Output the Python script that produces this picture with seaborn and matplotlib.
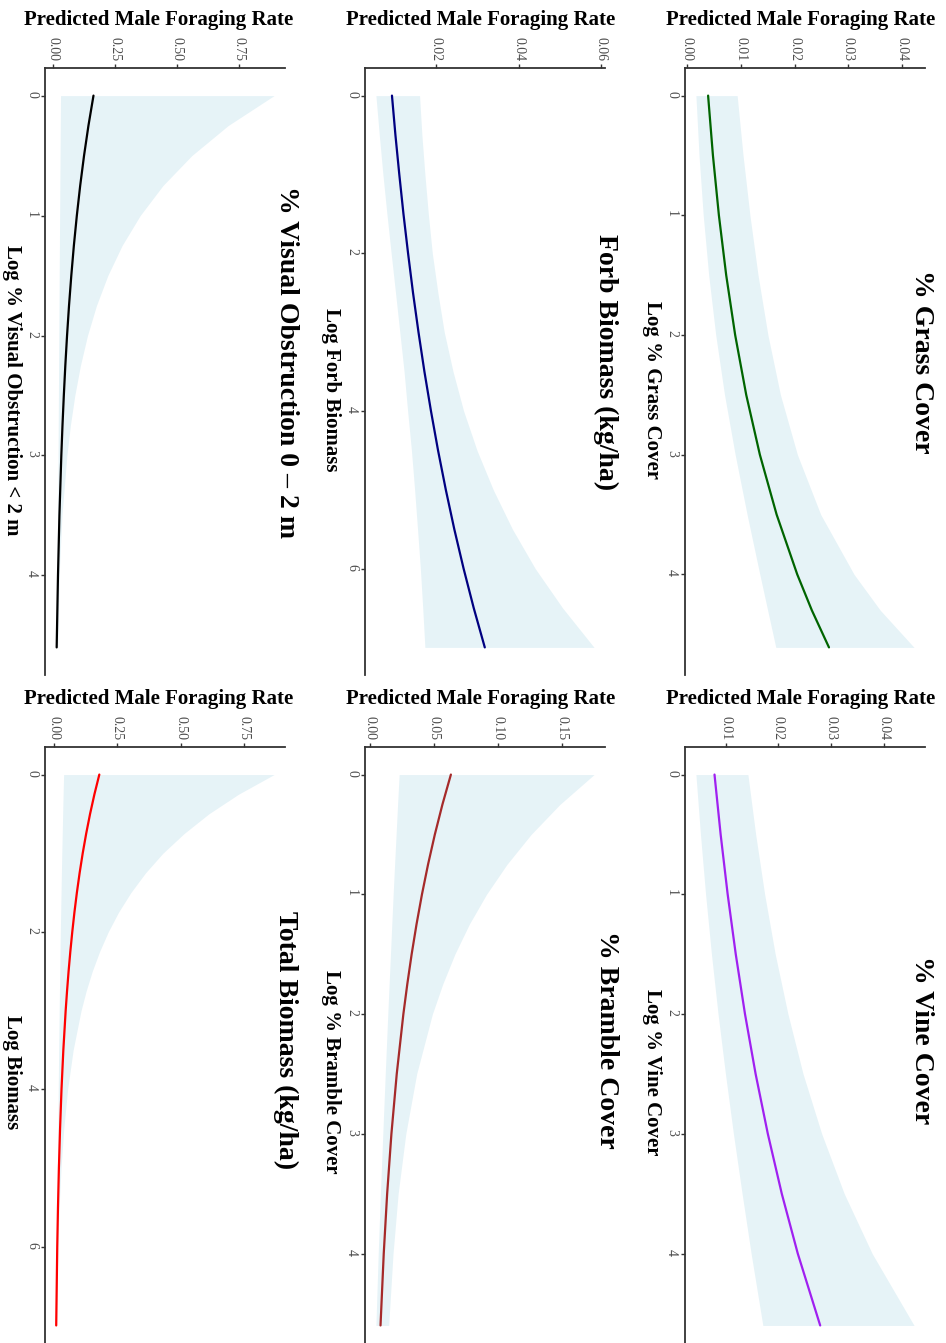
import matplotlib
matplotlib.use("Agg")
import matplotlib.pyplot as plt
import seaborn as sns

# ---------------- data ----------------
# % Grass Cover (log scale predictor)
grass_x = [0, 0.5, 1, 1.5, 2, 2.5, 3, 3.5, 4, 4.3, 4.61]
grass_fit = [0.00390, 0.00480, 0.00591, 0.00727, 0.00894, 0.01100, 0.01354, 0.01666, 0.02050, 0.02322, 0.02641]
grass_lo = [0.00163, 0.00221, 0.00299, 0.00401, 0.00532, 0.00696, 0.00894, 0.01116, 0.01353, 0.01499, 0.01651]
grass_hi = [0.00931, 0.01041, 0.01169, 0.01320, 0.01504, 0.01737, 0.02053, 0.02487, 0.03108, 0.03597, 0.04226]
grass_ticks = [0.00, 0.01, 0.02, 0.03, 0.04]
grass_ticklabels = ["0.00", "0.01", "0.02", "0.03", "0.04"]
grass_yticks = [0, 1, 2, 3, 4]

# % Vine Cover
vine_x = [0, 0.5, 1, 1.5, 2, 2.5, 3, 3.5, 4, 4.6]
vine_fit = [0.00790, 0.00906, 0.01039, 0.01192, 0.01367, 0.01568, 0.01799, 0.02063, 0.02366, 0.02790]
vine_lo = [0.00438, 0.00524, 0.00621, 0.00732, 0.00857, 0.00997, 0.01148, 0.01312, 0.01483, 0.01705]
vine_hi = [0.01422, 0.01569, 0.01739, 0.01939, 0.02180, 0.02466, 0.02819, 0.03245, 0.03774, 0.04567]
vine_ticks = [0.01, 0.02, 0.03, 0.04]
vine_ticklabels = ["0.01", "0.02", "0.03", "0.04"]
vine_yticks = [0, 1, 2, 3, 4]

# Forb Biomass (kg/ha)
forb_x = [0, 0.5, 1, 1.5, 2, 2.5, 3, 3.5, 4, 4.5, 5, 5.5, 6, 6.5, 7]
forb_fit = [0.00920, 0.01004, 0.01098, 0.01199, 0.01311, 0.01431, 0.01564, 0.01708,
            0.01867, 0.02039, 0.02228, 0.02434, 0.02660, 0.02906, 0.03175]
forb_lo = [0.00530, 0.00612, 0.00700, 0.00797, 0.00900, 0.01006, 0.01110, 0.01214,
           0.01300, 0.01393, 0.01470, 0.01541, 0.01610, 0.01667, 0.01720]
forb_hi = [0.01590, 0.01647, 0.01720, 0.01803, 0.01900, 0.02035, 0.02190, 0.02403,
           0.02660, 0.02985, 0.03380, 0.03846, 0.04400, 0.05065, 0.05830]
forb_ticks = [0.02, 0.04, 0.06]
forb_ticklabels = ["0.02", "0.04", "0.06"]
forb_yticks = [0, 2, 4, 6]

# % Bramble Cover
bramble_x = [0, 0.25, 0.5, 0.75, 1, 1.25, 1.5, 1.75, 2, 2.5, 3, 3.5, 4, 4.6]
bramble_fit = [0.0634, 0.05677, 0.05084, 0.04553, 0.04076, 0.03650, 0.03268, 0.02927,
               0.02620, 0.02101, 0.01684, 0.01350, 0.01083, 0.00831]
bramble_lo = [0.0229, 0.02166, 0.0205, 0.01933, 0.0182, 0.01713, 0.0161, 0.01504,
              0.0140, 0.0120, 0.0101, 0.0082, 0.0065, 0.0047]
bramble_hi = [0.1755, 0.1487, 0.1262, 0.1073, 0.0913, 0.0778, 0.0665, 0.0570,
              0.0489, 0.0366, 0.0281, 0.0221, 0.0181, 0.0147]
bramble_ticks = [0.00, 0.05, 0.10, 0.15]
bramble_ticklabels = ["0.00", "0.05", "0.10", "0.15"]
bramble_yticks = [0, 1, 2, 3, 4]

# % Visual Obstruction 0-2 m
vo_x = [0, 0.25, 0.5, 0.75, 1, 1.25, 1.5, 1.75, 2, 2.25, 2.5, 2.75, 3, 3.5, 4, 4.6]
vo_fit = [0.163, 0.1426, 0.1248, 0.1092, 0.0956, 0.0836, 0.0732, 0.0640, 0.0560, 0.0490,
          0.0429, 0.0375, 0.0328, 0.0251, 0.0193, 0.0140]
vo_lo = [0.0297, 0.0287, 0.0278, 0.0269, 0.0260, 0.0251, 0.0242, 0.0234, 0.0226, 0.0218,
         0.0211, 0.0203, 0.0195, 0.0178, 0.0156, 0.0109]
vo_hi = [0.894, 0.708, 0.561, 0.444, 0.352, 0.2787, 0.221, 0.1750, 0.1387, 0.1101,
         0.0874, 0.0694, 0.0553, 0.0354, 0.0239, 0.0180]
vo_ticks = [0.00, 0.25, 0.50, 0.75]
vo_ticklabels = ["0.00", "0.25", "0.50", "0.75"]
vo_yticks = [0, 1, 2, 3, 4]

# Total Biomass (kg/ha)
total_x = [0, 0.25, 0.5, 0.75, 1, 1.25, 1.5, 1.75, 2, 2.25, 2.5, 2.75, 3, 3.5, 4, 4.5,
           5, 5.5, 6, 7]
total_fit = [0.178, 0.1586, 0.1413, 0.1259, 0.1121, 0.0999, 0.0890, 0.0793, 0.0707, 0.0630,
             0.0561, 0.0500, 0.0445, 0.0353, 0.0280, 0.0223, 0.01767, 0.01403, 0.01113, 0.00701]
total_lo = [0.0364, 0.0344, 0.0326, 0.0309, 0.0292, 0.0276, 0.0262, 0.0248, 0.0234, 0.0222,
            0.0210, 0.0199, 0.0188, 0.0168, 0.0150, 0.01345, 0.01196, 0.01060, 0.00926, 0.00583]
total_hi = [0.871, 0.730, 0.612, 0.514, 0.430, 0.361, 0.303, 0.254, 0.2132, 0.1789,
            0.1499, 0.1258, 0.1055, 0.0742, 0.0522, 0.0370, 0.0261, 0.01856, 0.01338, 0.00843]
total_ticks = [0.00, 0.25, 0.50, 0.75]
total_ticklabels = ["0.00", "0.25", "0.50", "0.75"]
total_yticks = [0, 2, 4, 6]

titles = ["% Grass Cover", "% Vine Cover", "Forb Biomass (kg/ha)",
          "% Bramble Cover", "% Visual Obstruction 0 \u2013 2 m", "Total Biomass (kg/ha)"]
xlabels = ["Log % Grass Cover", "Log % Vine Cover", "Log Forb Biomass",
           "Log % Bramble Cover", "Log % Visual Obstruction < 2 m", "Log Biomass"]
response_label = "Predicted Male Foraging Rate"
line_colors = ["darkgreen", "#A020F0", "navy", "brown", "black", "red"]

# ---------------- style ----------------
sns.set_theme(style="ticks")
plt.rcParams["font.family"] = ["Liberation Serif", "DejaVu Serif"]
plt.rcParams["text.color"] = "black"
plt.rcParams["axes.edgecolor"] = "#333333"
plt.rcParams["xtick.color"] = "#333333"
plt.rcParams["ytick.color"] = "#333333"
plt.rcParams["xtick.labelcolor"] = "#4D4D4D"
plt.rcParams["ytick.labelcolor"] = "#4D4D4D"

W, H = 946, 1343
fig = plt.figure(figsize=(W / 100, H / 100), dpi=100)
fig.patch.set_facecolor("white")

# page is laid out sideways: each panel's response runs left->right along the top,
# predictor runs top->bottom
panels = [
    (grass_x, grass_fit, grass_lo, grass_hi, grass_ticks, grass_ticklabels, grass_yticks),
    (vine_x, vine_fit, vine_lo, vine_hi, vine_ticks, vine_ticklabels, vine_yticks),
    (forb_x, forb_fit, forb_lo, forb_hi, forb_ticks, forb_ticklabels, forb_yticks),
    (bramble_x, bramble_fit, bramble_lo, bramble_hi, bramble_ticks, bramble_ticklabels, bramble_yticks),
    (vo_x, vo_fit, vo_lo, vo_hi, vo_ticks, vo_ticklabels, vo_yticks),
    (total_x, total_fit, total_lo, total_hi, total_ticks, total_ticklabels, total_yticks),
]
# pixel boxes (left, top, right, bottom)
col_left = [685, 365, 45]
row_top = [68, 747]
row_bottom = [675, 1353]
title_x = [921, 606, 286]
xlabel_x = [652, 331, 12]
title_y = [362, 1040]
xlabel_y = [390, 1072]
resp_x = [801, 481, 159]
resp_y = [20, 699]

for i, (px, fit, lo, hi, ticks, ticklabels, yticks) in enumerate(panels):
    col, row = i // 2, i % 2
    L, T, R, B = col_left[col], row_top[row], col_left[col] + 240, row_bottom[row]
    ax = fig.add_axes([L / W, 1 - B / H, (R - L) / W, (B - T) / H])
    ax.fill_betweenx(px, lo, hi, color="lightblue", alpha=0.3, linewidth=0)
    sns.lineplot(x=fit, y=px, orient="y", sort=False, estimator=None,
                 color=line_colors[i], linewidth=1.6, ax=ax)
    xmin, xmax = min(min(lo), min(fit)), max(max(hi), max(fit))
    dx = 0.05 * (xmax - xmin)
    ax.set_xlim(xmin - dx, xmax + dx)
    ymin, ymax = min(px), max(px)
    dy = 0.05 * (ymax - ymin)
    ax.set_ylim(ymax + dy, ymin - dy)
    ax.set_xticks(ticks)
    ax.set_xticklabels(ticklabels)
    ax.set_yticks(yticks)
    ax.set_yticklabels([str(v) for v in yticks])
    ax.xaxis.tick_top()
    for side in ("right", "bottom"):
        ax.spines[side].set_visible(False)
    for side in ("top", "left"):
        ax.spines[side].set_linewidth(1.3)
    ax.tick_params(axis="both", labelrotation=-90, labelsize=10, length=3, width=1, pad=2)
    ax.set_xlabel("")
    ax.set_ylabel("")
    ax.set_facecolor("white")
    ax.grid(False)

    fig.text(title_x[col] / W, 1 - title_y[row] / H, titles[i], rotation=-90,
             ha="center", va="center", fontsize=20, fontweight="bold", color="black")
    fig.text(xlabel_x[col] / W, 1 - xlabel_y[row] / H, xlabels[i], rotation=-90,
             ha="center", va="center", fontsize=15, fontweight="bold", color="black")
    fig.text(resp_x[col] / W, 1 - resp_y[row] / H, response_label,
             ha="center", va="center", fontsize=15, fontweight="bold", color="black")

fig.savefig("out.png", dpi=100, facecolor="white")
